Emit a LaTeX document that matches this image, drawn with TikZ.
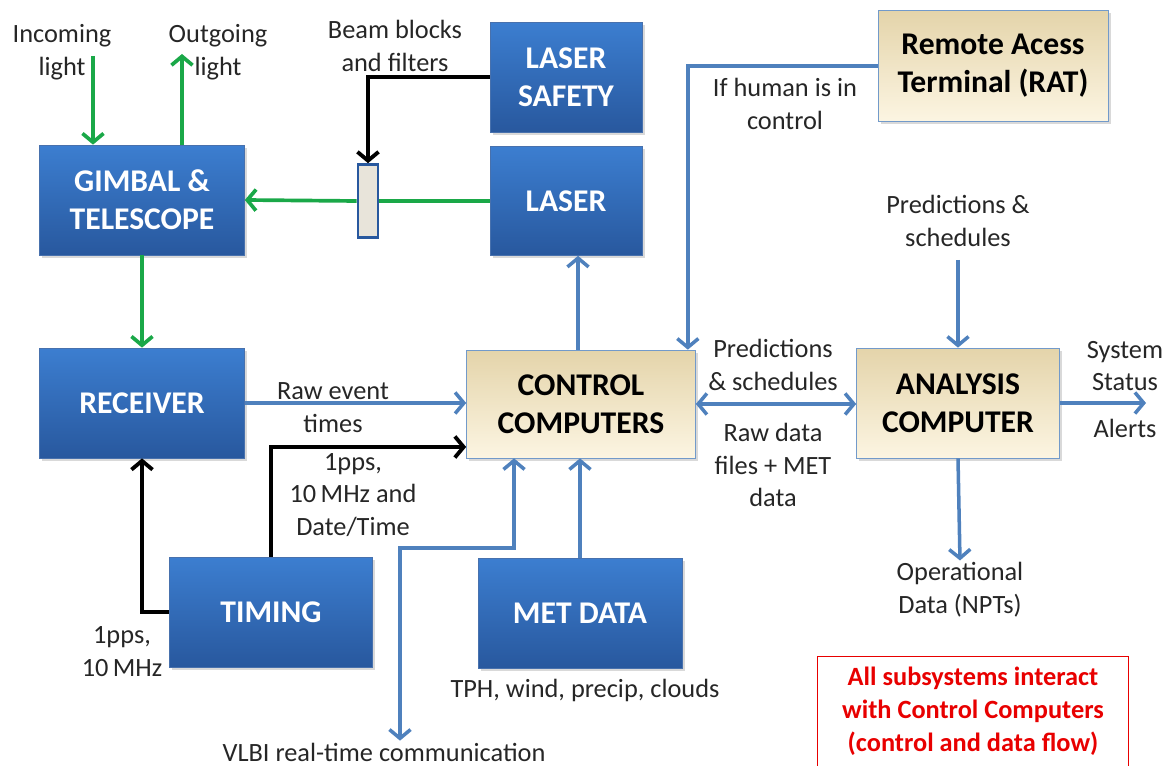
\documentclass[tikz,border=0pt]{standalone}
\usepackage{fontspec}
\setmainfont{Carlito}
\usetikzlibrary{arrows.meta,shadows}

\definecolor{boxblue}{RGB}{60,126,208}
\definecolor{boxbluedark}{RGB}{40,88,158}
\definecolor{tantop}{RGB}{228,212,170}
\definecolor{tanbot}{RGB}{252,245,226}
\definecolor{flowblue}{RGB}{79,129,189}
\definecolor{lightgreen}{RGB}{26,168,72}
\definecolor{alertred}{RGB}{232,0,0}
\definecolor{filtergray}{RGB}{232,228,218}

\tikzset{
  bluebox/.style={draw=boxbluedark!85, top color=boxblue, bottom color=boxbluedark,
    text=white, font=\fontsize{18}{21.6}\selectfont\bfseries, align=center,
    inner sep=0pt, drop shadow={opacity=0.3, shadow xshift=1.5pt, shadow yshift=-1.5pt}},
  tanbox/.style={draw=flowblue!80, top color=tantop, bottom color=tanbot,
    text=black, font=\fontsize{18}{21.6}\selectfont\bfseries, align=center,
    inner sep=0pt, drop shadow={opacity=0.3, shadow xshift=1.5pt, shadow yshift=-1.5pt}},
  lbl/.style={font=\fontsize{15}{18.7}\selectfont, align=center, text=black!85, inner sep=1pt},
  greenline/.style={draw=lightgreen, line width=2.1pt},
  greenarrow/.style={greenline, -{Straight Barb[length=5pt,width=12pt]}},
  blackarrow/.style={draw=black, line width=2.2pt, -{Straight Barb[length=5pt,width=12pt]}},
  bluearrow/.style={draw=flowblue, line width=2pt, -{Straight Barb[length=5pt,width=12pt]}},
  bluedouble/.style={draw=flowblue, line width=2pt,
    {Straight Barb[length=5pt,width=12pt]}-{Straight Barb[length=5pt,width=12pt]}}
}

\begin{document}
\begin{tikzpicture}[x=0.02cm, y=-0.02cm]
  \useasboundingbox (0,0) rectangle (1171,766);

  % Draw subsystem boxes
  \node[bluebox, minimum width=4.1cm, minimum height=2.2cm] (gimbal) at (142,200) {GIMBAL \&\\TELESCOPE};
  \node[bluebox, minimum width=4.1cm, minimum height=2.2cm] (receiver) at (142,403) {RECEIVER};
  \node[bluebox, minimum width=4.06cm, minimum height=2.2cm] (timing) at (271,612) {TIMING};
  \node[bluebox, minimum width=4.08cm, minimum height=2.2cm] (metdata) at (580,613) {MET DATA};
  \node[bluebox, minimum width=3.04cm, minimum height=2.2cm] (safety) at (566,77) {LASER\\SAFETY};
  \node[bluebox, minimum width=3.04cm, minimum height=2.18cm] (laser) at (566,201) {LASER};
  \node[tanbox, minimum width=4.58cm, minimum height=2.16cm] (control) at (581,404) {CONTROL\\COMPUTERS};
  \node[tanbox, minimum width=4.06cm, minimum height=2.2cm] (analysis) at (958,403) {ANALYSIS\\COMPUTER};
  \node[tanbox, minimum width=4.6cm, minimum height=2.22cm] (rat) at (993,66) {Remote Acess\\Terminal (RAT)};

  % Draw the filter in the laser path
  \node[draw=boxbluedark, line width=1.5pt, fill=filtergray, minimum width=0.4cm, minimum height=1.46cm, inner sep=0pt] (filter) at (368,201) {};

  % Draw free labels
  \node[lbl] (inlbl) at (62,52) {Incoming\\light};
  \node[lbl] (outlbl) at (218,52) {Outgoing\\light};
  \node[lbl] (beamlbl) at (395,46) {Beam blocks\\and filters};
  \node[lbl] (humanlbl) at (785,104) {If human is in\\control};
  \node[lbl] (predlbl) at (958,221) {Predictions \&\\schedules};
  \node[lbl] (rawlbl) at (333,408) {Raw event\\times};
  \node[lbl] (clklbl) at (353,495) {1pps,\\10\,MHz and\\Date/Time};
  \node[lbl] (pulselbl) at (122,652) {1pps,\\10\,MHz};
  \node[lbl] (schedlbl) at (773,365) {Predictions\\\& schedules};
  \node[lbl] (filelbl) at (773,465) {Raw data\\files + MET\\data};
  \node[lbl] (statuslbl) at (1125,366) {System\\Status};
  \node[lbl] (alertlbl) at (1125,428) {Alerts};
  \node[lbl] (oplbl) at (960,590) {Operational\\Data (NPTs)};
  \node[lbl] (tphlbl) at (585,690) {TPH, wind, precip, clouds};
  \node[lbl] (vlbilbl) at (384,752) {VLBI real-time communication};

  % Draw the note box (bottom edge runs off the page)
  \node[text=alertred, font=\fontsize{15}{18.7}\selectfont\bfseries, align=center,
        minimum width=6.2cm, minimum height=2.18cm, inner sep=0pt] (note) at (973,711.5)
        {All subsystems interact\\with Control Computers\\(control and data flow)};
  \draw[alertred, line width=0.8pt] (note.south west) |- (note.north east) -- (note.south east);

  % Draw light paths
  \coordinate (inlight) at (93,56);
  \coordinate (outlight) at (182,54);
  \draw[greenarrow] (inlight) -- (gimbal.north -| inlight);
  \draw[greenarrow] (gimbal.north -| outlight) -- (outlight);
  \draw[greenline] (laser.west) -- (filter.east);
  \draw[greenarrow] (filter.west) -- (gimbal.east);
  \draw[greenarrow] (gimbal.south) -- (receiver.north);

  % Draw timing signals
  \draw[blackarrow] (safety.west) -| (filter.north);
  \draw[blackarrow] (timing.north) |- ([yshift=-0.86cm]control.west);
  \draw[blackarrow] (timing.west) -| (receiver.south);

  % Draw data flow
  \coordinate (laserfeed) at (578,0);
  \coordinate (vlbibend) at (400,548);
  \coordinate (statusout) at (1146,403);
  \draw[bluearrow] (receiver.east) -- (receiver.east -| control.west);
  \draw[bluearrow] (control.north -| laserfeed) -- (laser.south -| laserfeed);
  \draw[bluearrow] (rat.west) -| ([xshift=-0.16cm]control.north east);
  \draw[bluedouble] (control.east) -- (control.east -| analysis.west);
  \draw[bluearrow] ([yshift=-0.22cm]predlbl.south) -- (analysis.north);
  \draw[bluearrow] (analysis.east) -- (statusout);
  \draw[bluearrow] (analysis.south) -- (oplbl.north);
  \draw[bluearrow] (metdata.north) -- (metdata.north |- control.south);
  \draw[bluedouble] ([xshift=-1.34cm]control.south) |- (vlbibend) -- (vlbibend |- vlbilbl.north);
\end{tikzpicture}
\end{document}
